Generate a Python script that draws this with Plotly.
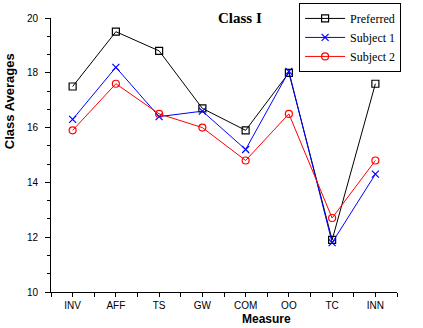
import plotly.graph_objects as go

categories = ["INV", "AFF", "TS", "GW", "COM", "OO", "TC", "INN"]
preferred = [17.5, 19.5, 18.8, 16.7, 15.9, 18.0, 11.9, 17.6]
subject1 = [16.3, 18.2, 16.4, 16.6, 15.2, 18.05, 11.8, 14.3]
subject2 = [15.9, 17.6, 16.5, 16.0, 14.8, 16.5, 12.7, 14.8]

xs = list(range(len(categories)))

fig = go.Figure()
fig.add_trace(go.Scatter(x=xs, y=preferred, name="Preferred", mode="lines+markers",
                         line=dict(color="black", width=1),
                         marker=dict(symbol="square-open", size=7, color="black", line=dict(width=1.2))))
fig.add_trace(go.Scatter(x=xs, y=subject1, name="Subject 1", mode="lines+markers",
                         line=dict(color="#0000ff", width=1),
                         marker=dict(symbol="x-thin-open", size=7, color="#0000ff", line=dict(width=1.2, color="#0000ff"))))
fig.add_trace(go.Scatter(x=xs, y=subject2, name="Subject 2", mode="lines+markers",
                         line=dict(color="#ff0000", width=1),
                         marker=dict(symbol="circle-open", size=7, color="#ff0000", line=dict(width=1.2))))

fig.update_layout(
    width=423, height=328,
    margin=dict(l=51, r=26, t=18, b=36, autoexpand=False),
    paper_bgcolor="white", plot_bgcolor="white",
    font=dict(family="Liberation Sans, Arial", size=10, color="black"),
    showlegend=True,
    legend=dict(x=0.717, y=1.055, xanchor="left", yanchor="top",
                bordercolor="black", borderwidth=1, bgcolor="white",
                font=dict(family="Liberation Serif, Times New Roman", size=12, color="black"),
                tracegroupgap=0, itemwidth=40),
    xaxis=dict(range=[-0.5, 7.5], tickvals=xs, ticktext=categories,
               showgrid=False, zeroline=False, showline=True, linecolor="black", linewidth=1,
               ticks="outside", ticklen=4, tickcolor="black", ticklabelstandoff=0,
               minor=dict(tick0=-0.5, dtick=1, ticks="outside", ticklen=4, tickcolor="black", showgrid=False)),
    yaxis=dict(range=[10, 20], tickvals=[10, 12, 14, 16, 18, 20],
               showgrid=False, zeroline=False, showline=True, linecolor="black", linewidth=1,
               ticks="outside", ticklen=5, tickcolor="black", ticklabelstandoff=5,
               minor=dict(tick0=10, dtick=2/3, ticks="outside", ticklen=3, tickcolor="black", showgrid=False)),
    annotations=[
        dict(text="<b>Class I</b>", x=0.545, y=1.0, xref="paper", yref="paper",
             xanchor="center", yanchor="middle", showarrow=False,
             font=dict(family="Liberation Serif, Times New Roman", size=15, color="black")),
        dict(text="<b>Measure</b>", x=0.624, y=-0.1, xref="paper", yref="paper",
             xanchor="center", yanchor="middle", showarrow=False,
             font=dict(family="Liberation Sans, Arial", size=12, color="black")),
        dict(text="<b>Class Averages</b>", x=-0.121, y=0.697, xref="paper", yref="paper",
             xanchor="center", yanchor="middle", showarrow=False, textangle=-90,
             font=dict(family="Liberation Sans, Arial", size=13, color="black")),
    ],
)

fig.write_html("out.html")
